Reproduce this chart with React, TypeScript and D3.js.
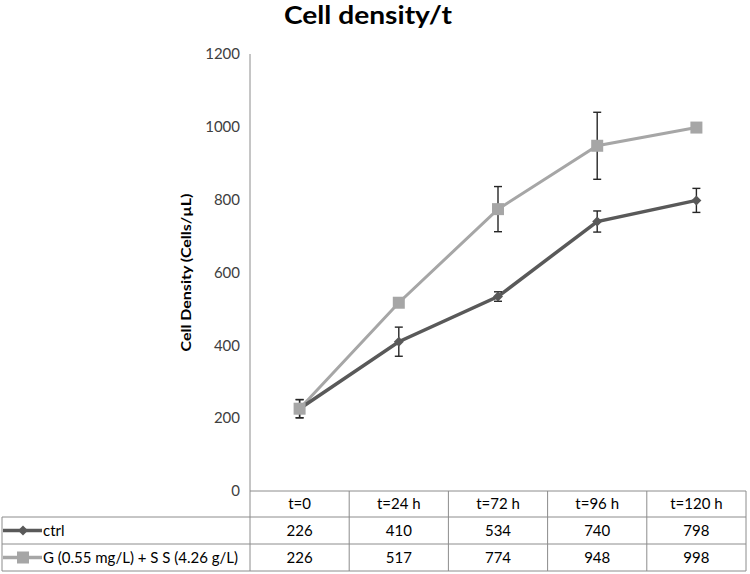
import React from "react";
import * as d3 from "d3";

const categories = ["t=0", "t=24 h", "t=72 h", "t=96 h", "t=120 h"];
const seriesNames = ["ctrl", "G (0.55 mg/L) + S S (4.26 g/L)"];
const ctrlValues = [226, 410, 534, 740, 798];
const gValues = [226, 517, 774, 948, 998];
const ctrlErrors = [25, 40, 13, 29, 33];
const gErrors = [25, 8, 62, 92, 6];
const yTicks = [0, 200, 400, 600, 800, 1000, 1200];
const title = "Cell density/t";
const yLabel = "Cell Density  (Cells/µL)";

const W = 750;
const H = 574;
const FONT = "Lato, 'Open Sans', sans-serif";

export default function App() {
  const x = d3.scaleBand<string>().domain(categories).range([250, 746]).padding(0);
  const y = d3.scaleLinear().domain([0, 1200]).range([491, 54]);
  const cx = (c: string) => (x(c) as number) + x.bandwidth() / 2;

  const series = [
    { name: seriesNames[0], values: ctrlValues, errors: ctrlErrors, color: "#595959", marker: "diamond", width: 3.5 },
    { name: seriesNames[1], values: gValues, errors: gErrors, color: "#a6a6a6", marker: "square", width: 3 },
  ];

  const line = d3
    .line<number>()
    .x((_, i) => cx(categories[i]))
    .y((v) => y(v));

  const rowTop = [491, 517, 544, 571];
  const tableLeft = 2;
  const tableRight = 746;
  const gridColor = "#8c8c8c";

  const marker = (kind: string, px: number, py: number, color: string, key: string) =>
    kind === "diamond" ? (
      <path
        key={key}
        d={d3.symbol().type(d3.symbolDiamond2).size(64)() as string}
        transform={`translate(${px},${py})`}
        fill={color}
      />
    ) : (
      <rect key={key} x={px - 6} y={py - 6} width={12} height={12} fill={color} />
    );

  return (
    <svg
      width={W}
      height={H}
      style={{ position: "absolute", left: 0, top: 0, background: "#fff" }}
      fontFamily={FONT}
    >
      <rect width={W} height={H} fill="#fff" />
      <text x={368} y={23.5} textAnchor="middle" fontSize={25} fontWeight="bold" fill="#000" textLength={168} lengthAdjust="spacingAndGlyphs">
        {title}
      </text>
      <text
        transform={`translate(191,${(y(0) + y(1200)) / 2}) rotate(-90)`}
        textAnchor="middle"
        fontSize={13}
        fontWeight="bold"
        fill="#000"
        textLength={158}
        lengthAdjust="spacingAndGlyphs"
      >
        {yLabel}
      </text>
      {yTicks.map((t) => (
        <text key={t} x={240} y={y(t)} dy="0.35em" textAnchor="end" fontSize={15} fill="#404040">
          {t}
        </text>
      ))}
      {/* axis line */}
      <line x1={250} x2={250} y1={54} y2={rowTop[3]} stroke={gridColor} strokeWidth={1} />
      {/* table */}
      <line x1={250} x2={tableRight} y1={rowTop[0]} y2={rowTop[0]} stroke={gridColor} />
      {[1, 2, 3].map((i) => (
        <line key={i} x1={tableLeft} x2={tableRight} y1={rowTop[i]} y2={rowTop[i]} stroke={gridColor} />
      ))}
      <line x1={tableLeft} x2={tableLeft} y1={rowTop[1]} y2={rowTop[3]} stroke={gridColor} />
      {categories.map((c) => (
        <line
          key={c}
          x1={(x(c) as number) + x.bandwidth()}
          x2={(x(c) as number) + x.bandwidth()}
          y1={rowTop[0]}
          y2={rowTop[3]}
          stroke={gridColor}
        />
      ))}
      {categories.map((c) => (
        <text key={c} x={cx(c)} y={(rowTop[0] + rowTop[1]) / 2} dy="0.35em" textAnchor="middle" fontSize={15} fill="#000">
          {c}
        </text>
      ))}
      {series.map((s, si) => {
        const ry = (rowTop[si + 1] + rowTop[si + 2]) / 2;
        return (
          <g key={s.name}>
            <line x1={3} x2={42} y1={ry} y2={ry} stroke={s.color} strokeWidth={3.5} />
            {marker(s.marker, 23, ry, s.color, "k")}
            <text x={43} y={ry} dy="0.35em" fontSize={15} fill="#000">
              {s.name}
            </text>
            {s.values.map((v, i) => (
              <text key={i} x={cx(categories[i])} y={ry} dy="0.35em" textAnchor="middle" fontSize={15} fill="#000">
                {v}
              </text>
            ))}
          </g>
        );
      })}
      {/* lines */}
      {series
        .slice()
        .reverse()
        .map((s) => (
          <path key={s.name} d={line(s.values) as string} fill="none" stroke={s.color} strokeWidth={s.width} />
        ))}
      {/* error bars */}
      {series.map((s) =>
        s.values.map((v, i) => {
          const px = cx(categories[i]);
          const y1 = y(v + s.errors[i]);
          const y2 = y(v - s.errors[i]);
          return (
            <g key={s.name + i} stroke="#262626" strokeWidth={1.4}>
              <line x1={px} x2={px} y1={y1} y2={y2} />
              <line x1={px - 4} x2={px + 4} y1={y1} y2={y1} />
              <line x1={px - 4} x2={px + 4} y1={y2} y2={y2} />
            </g>
          );
        })
      )}
      {/* markers */}
      {series.map((s) => s.values.map((v, i) => marker(s.marker, cx(categories[i]), y(v), s.color, s.name + "m" + i)))}
    </svg>
  );
}
